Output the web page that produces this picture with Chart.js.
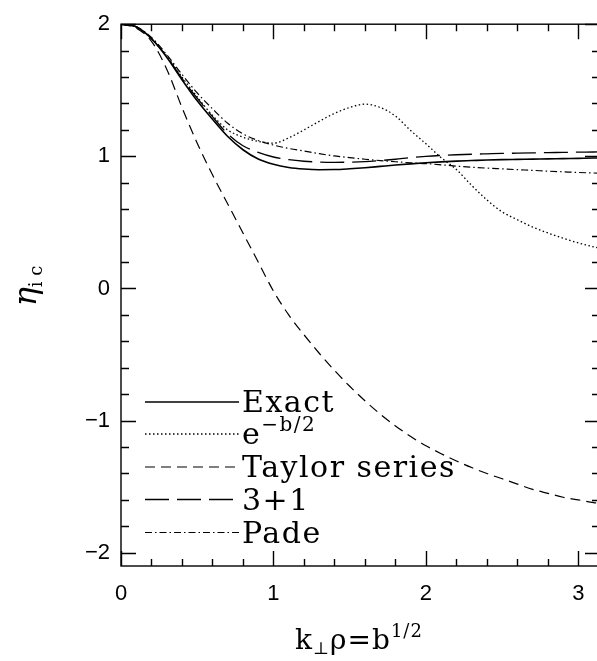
<!DOCTYPE html>
<html>
<head>
  <title>eta_ic approximations</title>
  <script src="https://cdn.jsdelivr.net/npm/chart.js"></script>
  <style>
    body { margin: 0; overflow: hidden; background: #fff; }
    #wrap { width: 597px; height: 661px; overflow: hidden; }
  </style>
</head>
<body>
  <div id="wrap">
    <canvas id="etaChart" width="600" height="661"></canvas>
  </div>

  <script>
    const xs = [0, 0.1, 0.2, 0.3, 0.4, 0.5, 0.6, 0.7, 0.8, 0.9, 1.0, 1.1, 1.2, 1.3, 1.4, 1.5,
                1.6, 1.7, 1.8, 1.9, 2.0, 2.1, 2.2, 2.3, 2.4, 2.5, 2.6, 2.7, 2.8, 2.9, 3.0, 3.1, 3.14];

    const exactY = [2.00, 1.98, 1.89, 1.75, 1.58, 1.42, 1.28, 1.15, 1.05, 0.98, 0.94, 0.916, 0.904, 0.899, 0.900, 0.906,
                    0.914, 0.924, 0.934, 0.943, 0.951, 0.958, 0.964, 0.968, 0.972, 0.975, 0.977, 0.979, 0.981, 0.983, 0.985, 0.987, 0.988];

    const expHalfY = [2.00, 1.98, 1.89, 1.76, 1.60, 1.45, 1.31, 1.20, 1.145, 1.113, 1.10, 1.14, 1.20, 1.265, 1.325, 1.37,
                      1.395, 1.37, 1.305, 1.195, 1.095, 0.99, 0.90, 0.78, 0.67, 0.58, 0.52, 0.465, 0.42, 0.38, 0.345, 0.315, 0.305];

    const taylorY = [2.00, 1.97, 1.87, 1.66, 1.37, 1.10, 0.86, 0.64, 0.42, 0.20, -0.02, -0.20, -0.35, -0.49, -0.62, -0.74,
                     -0.85, -0.95, -1.04, -1.12, -1.19, -1.25, -1.305, -1.355, -1.40, -1.44, -1.48, -1.52, -1.55, -1.58, -1.60, -1.62, -1.625];

    const threePlusOneY = [2.00, 1.98, 1.89, 1.755, 1.59, 1.44, 1.30, 1.17, 1.08, 1.03, 0.995, 0.975, 0.963, 0.957, 0.955, 0.956,
                           0.96, 0.968, 0.978, 0.99, 1.0, 1.007, 1.012, 1.016, 1.019, 1.022, 1.024, 1.026, 1.028, 1.03, 1.032, 1.033, 1.034];

    const padeY = [2.00, 1.98, 1.90, 1.77, 1.62, 1.48, 1.36, 1.25, 1.17, 1.12, 1.085, 1.06, 1.04, 1.02, 1.003, 0.99,
                   0.978, 0.968, 0.959, 0.951, 0.945, 0.936, 0.926, 0.918, 0.911, 0.905, 0.899, 0.894, 0.888, 0.883, 0.878, 0.874, 0.872];

    const legendText = ['Exact', 'e', 'Taylor series', '3+1', 'Pade'];
    const legendSup = ['', '\u2212b/2', '', '', ''];

    const xTicks = [0, 1, 2, 3];
    const yTicks = [-2, -1, 0, 1, 2];

    const serif = '"DejaVu Serif", serif';

    function pts(ys) {
      return xs.map((x, i) => ({ x: x, y: ys[i] }));
    }

    function lineSet(label, ys, dash, width) {
      return {
        label: label,
        data: pts(ys),
        borderColor: '#000',
        borderWidth: width,
        borderDash: dash,
        pointRadius: 0,
        fill: false,
        cubicInterpolationMode: 'monotone'
      };
    }

    // draws a row of text pieces (with sub/superscripts)
    function drawRuns(ctx, runs, x, y, align) {
      let total = 0;
      runs.forEach(r => { ctx.font = r.font; total += ctx.measureText(r.t).width; });
      let cx = align === 'center' ? x - total / 2 : x;
      runs.forEach(r => {
        ctx.font = r.font;
        ctx.fillText(r.t, cx, y + (r.dy || 0));
        cx += ctx.measureText(r.t).width;
      });
    }

    const framePlugin = {
      id: 'frame',
      afterDatasetsDraw(chart) {
        const ctx = chart.ctx;
        const a = chart.chartArea;
        const xs_ = chart.scales.x;
        const ys_ = chart.scales.y;
        ctx.save();
        ctx.strokeStyle = '#000';
        ctx.lineWidth = 1.4;
        ctx.setLineDash([]);
        ctx.strokeRect(a.left, a.top, a.right - a.left, a.bottom - a.top);

        ctx.beginPath();
        for (let v = 0; v <= 3.15; v += 0.2) {
          const major = xTicks.some(t => Math.abs(t - v) < 1e-6);
          const len = major ? 15 : 7;
          const px = Math.round(xs_.getPixelForValue(v)) + 0.5;
          ctx.moveTo(px, a.bottom); ctx.lineTo(px, a.bottom - len);
          ctx.moveTo(px, a.top); ctx.lineTo(px, a.top + len);
        }
        for (let k = -10; k <= 10; k++) {
          const v = k * 0.2;
          const major = yTicks.some(t => Math.abs(t - v) < 1e-6);
          const len = major ? 15 : 8;
          const py = Math.round(ys_.getPixelForValue(v)) + 0.5;
          ctx.moveTo(a.left, py); ctx.lineTo(a.left + len, py);
          ctx.moveTo(a.right, py); ctx.lineTo(a.right - len, py);
        }
        ctx.stroke();
        ctx.restore();
      },
      afterDraw(chart) {
        const ctx = chart.ctx;
        ctx.save();
        ctx.fillStyle = '#000';
        ctx.strokeStyle = '#000';
        ctx.textAlign = 'left';
        ctx.textBaseline = 'alphabetic';

        // legend inside the plot, bottom left
        const rowY = [402, 434, 467, 499.5, 532.5];
        chart.data.datasets.forEach((ds, i) => {
          ctx.lineWidth = ds.borderWidth;
          ctx.setLineDash(ds.borderDash || []);
          ctx.beginPath();
          ctx.moveTo(145, rowY[i]);
          ctx.lineTo(239, rowY[i]);
          ctx.stroke();
          ctx.setLineDash([]);
          ctx.letterSpacing = '1.5px';
          const runs = [{ t: legendText[i], font: '30px ' + serif }];
          if (legendSup[i]) runs.push({ t: legendSup[i], font: '20px ' + serif, dy: -13 });
          drawRuns(ctx, runs, 242, rowY[i] + 10, 'left');
        });
        ctx.letterSpacing = '1px';

        // x axis title
        const cx = (chart.chartArea.left + 597) / 2;
        drawRuns(ctx, [
          { t: 'k', font: '28px ' + serif },
          { t: '\u22a5', font: '17px ' + serif, dy: 5 },
          { t: '\u03c1=b', font: '28px ' + serif },
          { t: '1/2', font: '18px ' + serif, dy: -12 }
        ], cx, 649, 'center');
        ctx.letterSpacing = '0px';

        // y axis title
        ctx.translate(36, 286);
        ctx.rotate(-Math.PI / 2);
        drawRuns(ctx, [
          { t: '\u03b7', font: 'italic 32px ' + serif },
          { t: 'i c', font: '18px ' + serif, dy: 6 }
        ], 0, 0, 'center');
        ctx.restore();
      }
    };

    const tickFont = { family: '"Liberation Sans", Arial, sans-serif', size: 22 };

    new Chart(document.getElementById('etaChart').getContext('2d'), {
      type: 'line',
      data: {
        datasets: [
          lineSet('Exact', exactY, [], 1.6),
          lineSet('e^-b/2', expHalfY, [1.5, 2.5], 1.3),
          lineSet('Taylor series', taylorY, [10, 6], 1.2),
          lineSet('3+1', threePlusOneY, [24, 8], 1.3),
          lineSet('Pade', padeY, [7, 3, 1.5, 3], 1.2)
        ]
      },
      options: {
        responsive: false,
        animation: false,
        devicePixelRatio: 1,
        layout: { padding: { top: 20, right: 0, bottom: 0, left: 0 } },
        plugins: { legend: { display: false }, tooltip: { enabled: false } },
        scales: {
          x: {
            type: 'linear',
            min: 0,
            max: 3.1416,
            grid: { display: false, drawTicks: false },
            border: { display: false },
            ticks: { color: '#000', font: tickFont, padding: 15, maxRotation: 0 },
            afterBuildTicks: s => { s.ticks = xTicks.map(v => ({ value: v })); },
            afterFit: s => { s.height = 95; }
          },
          y: {
            type: 'linear',
            min: -2.1,
            max: 2,
            grid: { display: false, drawTicks: false },
            border: { display: false },
            ticks: {
              color: '#000',
              font: tickFont,
              padding: 11,
              callback: v => String(v).replace('-', '\u2212')
            },
            afterBuildTicks: s => { s.ticks = yTicks.map(v => ({ value: v })); },
            afterFit: s => { s.width = 121; }
          }
        }
      },
      plugins: [framePlugin]
    });
  </script>
</body>
</html>
